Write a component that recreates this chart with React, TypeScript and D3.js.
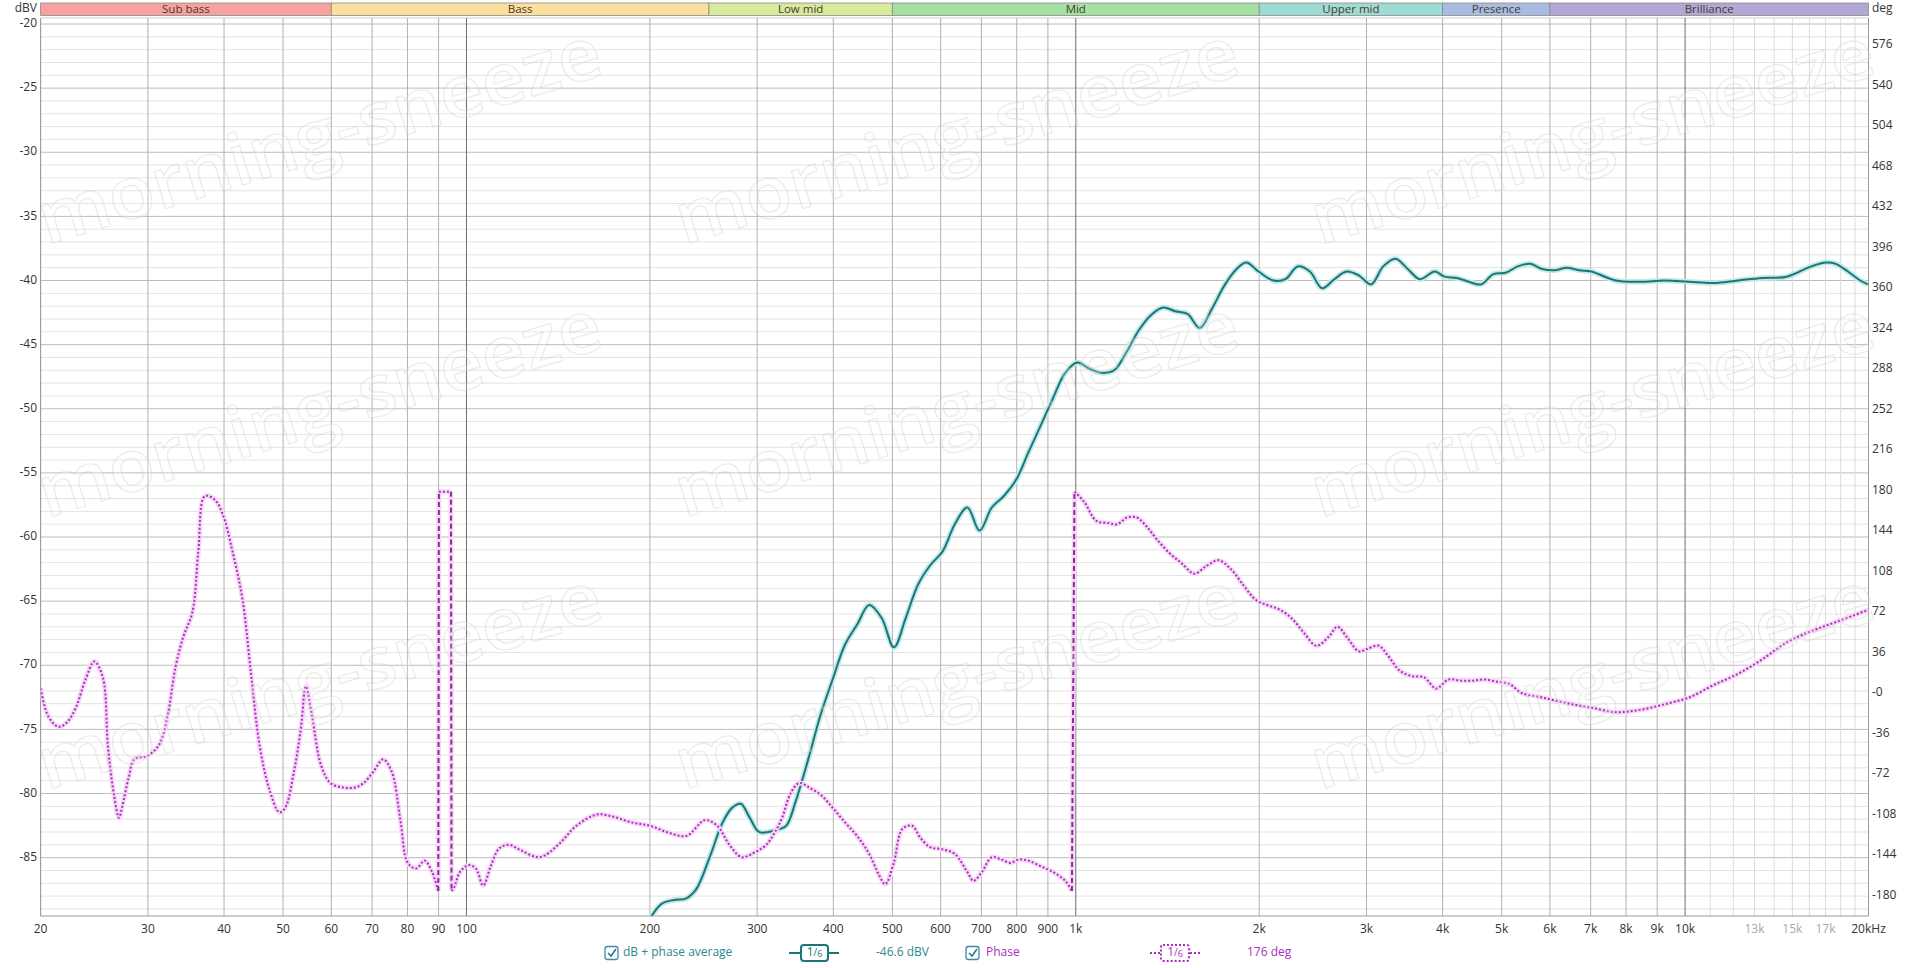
import React from 'react';
import * as d3 from 'd3';

// ---------- data ----------
const bandNames = ['Sub bass', 'Bass', 'Low mid', 'Mid', 'Upper mid', 'Presence', 'Brilliance'];
const bandEdges = [20, 60, 250, 500, 2000, 4000, 6000, 20000];
const bandColors = ['#f6a29f', '#fbdf9d', '#d8eb9c', '#a6e0a3', '#9edcd3', '#a8bce2', '#b3a7d4'];

const dbTicks = [-20, -25, -30, -35, -40, -45, -50, -55, -60, -65, -70, -75, -80, -85];
const degTicks = [576, 540, 504, 468, 432, 396, 360, 324, 288, 252, 216, 180, 144, 108, 72, 36, 0, -36, -72, -108, -144, -180];
const degLabels = ['576', '540', '504', '468', '432', '396', '360', '324', '288', '252', '216', '180', '144', '108', '72', '36', '-0', '-36', '-72', '-108', '-144', '-180'];
const freqTicks = [20, 30, 40, 50, 60, 70, 80, 90, 100, 200, 300, 400, 500, 600, 700, 800, 900, 1000, 2000, 3000, 4000, 5000, 6000, 7000, 8000, 9000, 10000, 13000, 15000, 17000, 20000];
const freqLabels = ['20', '30', '40', '50', '60', '70', '80', '90', '100', '200', '300', '400', '500', '600', '700', '800', '900', '1k', '2k', '3k', '4k', '5k', '6k', '7k', '8k', '9k', '10k', '13k', '15k', '17k', '20kHz'];
const faintFreqLabels = ['13k', '15k', '17k'];

const magFreq = [201, 209, 219, 229, 238, 251, 263, 273, 282, 291, 302, 313, 325, 335, 347, 364, 381, 399, 418, 438, 458, 480, 503, 526, 551, 577, 605, 633, 664, 695, 728, 762, 799, 836, 876, 917, 961, 1006, 1054, 1104, 1156, 1211, 1268, 1328, 1391, 1457, 1525, 1598, 1673, 1753, 1836, 1905, 1995, 2109, 2208, 2313, 2422, 2537, 2657, 2783, 2914, 3052, 3196, 3348, 3506, 3672, 3882, 4028, 4218, 4418, 4627, 4846, 5075, 5315, 5567, 5830, 6106, 6394, 6697, 7014, 7693, 8437, 9254, 10150, 11133, 12211, 13393, 14690, 16112, 17050, 17672, 18510, 19384, 19950];
const magDb = [-89.6, -88.6, -88.3, -88.2, -87.5, -84.9, -82.3, -81.1, -80.8, -81.8, -83.0, -83.0, -82.8, -82.5, -80.6, -77.3, -73.9, -71.1, -68.4, -66.8, -65.3, -66.3, -68.6, -66.3, -63.7, -62.2, -61.1, -59.0, -57.7, -59.5, -57.7, -56.8, -55.5, -53.4, -51.3, -49.2, -47.2, -46.4, -46.9, -47.2, -47.0, -45.6, -43.9, -42.7, -42.1, -42.4, -42.6, -43.7, -42.2, -40.4, -39.1, -38.6, -39.3, -40.0, -39.9, -38.9, -39.3, -40.6, -39.9, -39.3, -39.6, -40.3, -38.9, -38.3, -39.1, -39.9, -39.3, -39.7, -39.8, -40.1, -40.3, -39.5, -39.4, -38.9, -38.7, -39.1, -39.2, -39.0, -39.2, -39.3, -40.0, -40.1, -40.0, -40.1, -40.2, -40.0, -39.8, -39.7, -38.9, -38.6, -38.7, -39.3, -40.0, -40.3];

const phaseFreq = [20, 20.6, 21.4, 22.1, 22.85, 23.7, 24.5, 25.3, 25.8, 26.4, 26.9, 27.2, 27.9, 28.5, 29.9, 31.3, 32.3, 33.3, 34.3, 35.5, 36.3, 37.2, 38.6, 39.8, 41.3, 42.9, 44.3, 45.8, 47.5, 49.3, 50.4, 52.1, 53.5, 54.5, 55.8, 57.7, 59.8, 62.7, 65.6, 67.8, 70.3, 73.0, 75.4, 77.9, 80.1, 82.7, 85.4, 87.8, 89.9, 90.1, 94.3, 94.5, 95.4, 97.6, 100.8, 103.6, 106.5, 109.6, 113.2, 117.5, 123, 131.9, 141.4, 151.5, 163.9, 174.1, 186.6, 200, 214.3, 229.7, 246.2, 257.9, 270.1, 282.9, 296.3, 310.4, 320.6, 329.6, 340.5, 351.7, 365, 382.3, 399, 418, 437.5, 458, 475.6, 486.7, 502.7, 519, 538.6, 556.3, 577, 605, 633, 663.6, 679.4, 701.5, 728, 755.2, 780.2, 806, 836, 876, 917, 961, 985.5, 995, 1032, 1081, 1132, 1169.6, 1213.6, 1259, 1307, 1356, 1427, 1494, 1565, 1639, 1716, 1798, 1883, 1972, 2065, 2163, 2265, 2372, 2484, 2601, 2688, 2783, 2914, 3000, 3143, 3246, 3399, 3560, 3728, 3904, 4088, 4282, 4484, 4696, 4917, 5150, 5393, 5830, 6394, 7014, 7693, 8437, 9254, 10150, 11133, 12211, 13393, 14690, 16112, 17672, 20000];
const phaseDeg = [4, -21, -30, -26, -13, 12, 28, 14, -48, -91, -111, -102, -75, -59, -56, -46, -21, 23, 50, 72, 126, 175, 172, 159, 126, 83, 17, -48, -86, -106, -102, -70, -31, 6, -21, -64, -80, -84, -84, -80, -70, -59, -70, -113, -151, -156, -149, -159, -176, 179, 179, -176, -173, -159, -153, -156, -171, -154, -138, -135, -140, -146, -135, -118, -108, -110, -115, -118, -124, -127, -113, -118, -135, -146, -142, -135, -124, -111, -89, -80, -84, -91, -102, -115, -127, -143, -162, -170, -151, -121, -118, -129, -137, -139, -143, -159, -167, -159, -146, -148, -151, -148, -149, -154, -159, -167, -176, 179, 170, 153, 151, 150, 156, 156, 148, 137, 124, 115, 106, 113, 118, 110, 96, 83, 78, 74, 66, 53, 42, 50, 59, 50, 37, 39, 42, 34, 20, 15, 14, 4, 12, 11, 11, 12, 10, 8, 0, -4, -9, -13, -17, -15, -10, -4, 7, 17, 30, 45, 55, 63, 74];

const watermarkX = [321, 958, 1594];
const watermarkY = [141, 414, 686];

// ---------- layout ----------
const W = 1920;
const H = 968;
const L = 40.6;
const R = 1868.5;
const T = 24;
const B = 916;
const FONT = "'Segoe UI', 'Open Sans', 'Noto Sans', sans-serif";
const TEAL = '#1d7676';
const MAG = '#a92fbf';
const MAG_DARK = '#8c2a9e';

export default function App() {
  const x = d3.scaleLog().domain([20, 20000]).range([L, R]);
  const y = d3.scaleLinear().domain([-20, -89.55]).range([T, B]);
  const yp = d3.scaleLinear().domain([0, 180]).range([693, 490.5]);

  const minorDb = d3.range(-21, -90, -1).filter((v) => v % 5 !== 0);
  const gridFreqs: number[] = [];
  [10, 100, 1000].forEach((dec) => {
    for (let m = 2; m <= 9; m++) gridFreqs.push(m * dec);
  });
  gridFreqs.push(100, 1000, 10000);
  const fineFreqs = d3.range(11000, 20000, 1000);

  const lineGen = d3
    .line<[number, number]>()
    .x((d) => x(d[0]))
    .y((d) => y(d[1]))
    .curve(d3.curveCatmullRom.alpha(0.5));
  const magPts: [number, number][] = magFreq.map((f, i) => [f, magDb[i]]);
  const magPath = lineGen(magPts) || '';

  const pLine = d3
    .line<[number, number]>()
    .x((d) => x(d[0]))
    .y((d) => yp(d[1]))
    .curve(d3.curveCatmullRom.alpha(0.5));
  const segs: [number, number][][] = [];
  const jumps: [[number, number], [number, number]][] = [];
  let cur: [number, number][] = [];
  phaseFreq.forEach((f, i) => {
    if (i > 0 && Math.abs(phaseDeg[i] - phaseDeg[i - 1]) > 180) {
      segs.push(cur);
      jumps.push([[phaseFreq[i - 1], phaseDeg[i - 1]], [f, phaseDeg[i]]]);
      cur = [];
    }
    cur.push([f, phaseDeg[i]]);
  });
  segs.push(cur);

  const legY = 953;

  return (
    <svg
      width={W}
      height={H}
      style={{ position: 'absolute', left: 0, top: 0, background: '#fff' }}
      fontFamily={FONT}
    >
      <defs>
        <clipPath id="plot">
          <rect x={L} y={T - 6} width={R - L} height={B - T + 6} />
        </clipPath>
      </defs>
      <rect x={0} y={0} width={W} height={H} fill="#fff" />

      {/* bands */}
      {bandNames.map((n, i) => {
        const x0 = x(bandEdges[i]);
        const x1 = x(bandEdges[i + 1]);
        return (
          <g key={n}>
            <rect x={x0} y={3} width={x1 - x0} height={12.5} fill={bandColors[i]} stroke="#8a8a8a" strokeWidth={0.8} />
            <text x={(x0 + x1) / 2} y={9.6} textAnchor="middle" dominantBaseline="middle" fontSize={11.5} fill="#4a3a2e">
              {n}
            </text>
          </g>
        );
      })}

      {/* grid */}
      <line x1={L} x2={R} y1={18} y2={18} stroke="#cfcfcf" />
      {minorDb.map((v) => (
        <line key={'m' + v} x1={L} x2={R} y1={y(v)} y2={y(v)} stroke="#e3e3e3" strokeWidth={1} />
      ))}
      {dbTicks.map((v) => (
        <line key={'M' + v} x1={L} x2={R} y1={y(v)} y2={y(v)} stroke="#bcbcbc" strokeWidth={1} />
      ))}
      {fineFreqs.map((f) => (
        <line key={'ff' + f} x1={x(f)} x2={x(f)} y1={18} y2={B} stroke="#dcdcdc" strokeWidth={1} />
      ))}
      {gridFreqs.map((f) => (
        <line
          key={'gf' + f}
          x1={x(f)}
          x2={x(f)}
          y1={18}
          y2={B}
          stroke={f === 100 || f === 1000 || f === 10000 ? '#6e6e6e' : '#b2b2b2'}
          strokeWidth={1}
        />
      ))}
      <line x1={L} x2={L} y1={18} y2={B} stroke="#9a9a9a" />
      <line x1={R} x2={R} y1={18} y2={B} stroke="#9a9a9a" />
      <line x1={L} x2={R} y1={B} y2={B} stroke="#9a9a9a" />

      {/* axes labels */}
      <text x={37} y={9} textAnchor="end" dominantBaseline="middle" fontSize={12} fill="#333">
        dBV
      </text>
      <text x={1872} y={9} textAnchor="start" dominantBaseline="middle" fontSize={12} fill="#333">
        deg
      </text>
      {dbTicks.map((v) => (
        <text key={'dt' + v} x={37} y={y(v)} textAnchor="end" dominantBaseline="middle" fontSize={12} fill="#333">
          {v}
        </text>
      ))}
      {degTicks.map((v, i) => (
        <text key={'pt' + v} x={1872} y={yp(v)} textAnchor="start" dominantBaseline="middle" fontSize={12} fill="#333">
          {degLabels[i]}
        </text>
      ))}
      {freqTicks.map((f, i) => (
        <text
          key={'ft' + f}
          x={x(f)}
          y={929.5}
          textAnchor="middle"
          dominantBaseline="middle"
          fontSize={12}
          fill={faintFreqLabels.includes(freqLabels[i]) ? '#a8a8a8' : '#333'}
        >
          {freqLabels[i]}
        </text>
      ))}

      {/* curves */}
      <g clipPath="url(#plot)">
        <path d={magPath} fill="none" stroke="#c2e8e8" strokeWidth={5.5} strokeLinejoin="round" />
        <path d={magPath} fill="none" stroke={TEAL} strokeWidth={2} strokeLinejoin="round" />
        {segs.map((s, i) => (
          <path key={'ph' + i} d={pLine(s) || ''} fill="none" stroke="#f6d8f6" strokeWidth={5} strokeLinejoin="round" />
        ))}
        {jumps.map((j, i) => (
          <line
            key={'jh' + i}
            x1={x(j[0][0])}
            y1={yp(j[0][1])}
            x2={x(j[1][0])}
            y2={yp(j[1][1])}
            stroke="#f6d8f6"
            strokeWidth={5}
          />
        ))}
        {segs.map((s, i) => (
          <path key={'pd' + i} d={pLine(s) || ''} fill="none" stroke={MAG} strokeWidth={2} strokeDasharray="2 2" />
        ))}
        {jumps.map((j, i) => (
          <line
            key={'jd' + i}
            x1={x(j[0][0])}
            y1={yp(j[0][1])}
            x2={x(j[1][0])}
            y2={yp(j[1][1])}
            stroke={MAG_DARK}
            strokeWidth={2}
            strokeDasharray="5 3"
          />
        ))}
      </g>

      {/* legend */}
      <g fontSize={12}>
        <rect x={605} y={legY - 6.5} width={13} height={13} rx={2.5} fill="#fff" stroke="#3a8aa6" strokeWidth={1.3} />
        <path d={`M ${608} ${legY} l 3 3 l 5 -7`} fill="none" stroke="#2a6f8a" strokeWidth={1.5} />
        <text x={623} y={legY} dominantBaseline="middle" fill="#2a8a8a">
          dB + phase average
        </text>
        <line x1={789} x2={839} y1={legY} y2={legY} stroke={TEAL} strokeWidth={2} />
        <rect x={801} y={legY - 8} width={27} height={16} rx={3} fill="#fff" stroke={TEAL} strokeWidth={2} />
        <text x={814.5} y={legY} textAnchor="middle" dominantBaseline="middle" fill={TEAL}>
          <tspan fontSize={12}>1</tspan>
          <tspan fontSize={10}>/</tspan>
          <tspan fontSize={9} dy={2}>6</tspan>
        </text>
        <text x={876} y={legY} dominantBaseline="middle" fill="#2a8a8a">
          -46.6 dBV
        </text>
        <rect x={966} y={legY - 6.5} width={13} height={13} rx={2.5} fill="#fff" stroke="#3a8aa6" strokeWidth={1.3} />
        <path d={`M ${969} ${legY} l 3 3 l 5 -7`} fill="none" stroke="#2a6f8a" strokeWidth={1.5} />
        <text x={986} y={legY} dominantBaseline="middle" fill={MAG}>
          Phase
        </text>
        <line x1={1150} x2={1200} y1={legY} y2={legY} stroke={MAG} strokeWidth={2} strokeDasharray="2 2" />
        <rect x={1161} y={legY - 8} width={28} height={16} rx={2} fill="#fff" stroke={MAG} strokeWidth={2} strokeDasharray="2 2" />
        <text x={1175} y={legY} textAnchor="middle" dominantBaseline="middle" fill={MAG}>
          <tspan fontSize={12}>1</tspan>
          <tspan fontSize={10}>/</tspan>
          <tspan fontSize={9} dy={2}>6</tspan>
        </text>
        <text x={1247} y={legY} dominantBaseline="middle" fill={MAG}>
          176 deg
        </text>
      </g>

      {/* watermark */}
      <g opacity={0.4} pointerEvents="none">
        {watermarkY.map((wy) =>
          watermarkX.map((wx) => (
            <text
              key={wx + '-' + wy}
              x={0}
              y={0}
              transform={`translate(${wx},${wy}) rotate(-17)`}
              textAnchor="middle"
              dominantBaseline="middle"
              fontSize={72}
              fontWeight={600}
              fill="#ffffff"
              fillOpacity={0.5}
              stroke="#d2d2d2"
              strokeWidth={1.4}
              textLength={585}
              lengthAdjust="spacingAndGlyphs"
            >
              morning-sneeze
            </text>
          ))
        )}
      </g>
    </svg>
  );
}
